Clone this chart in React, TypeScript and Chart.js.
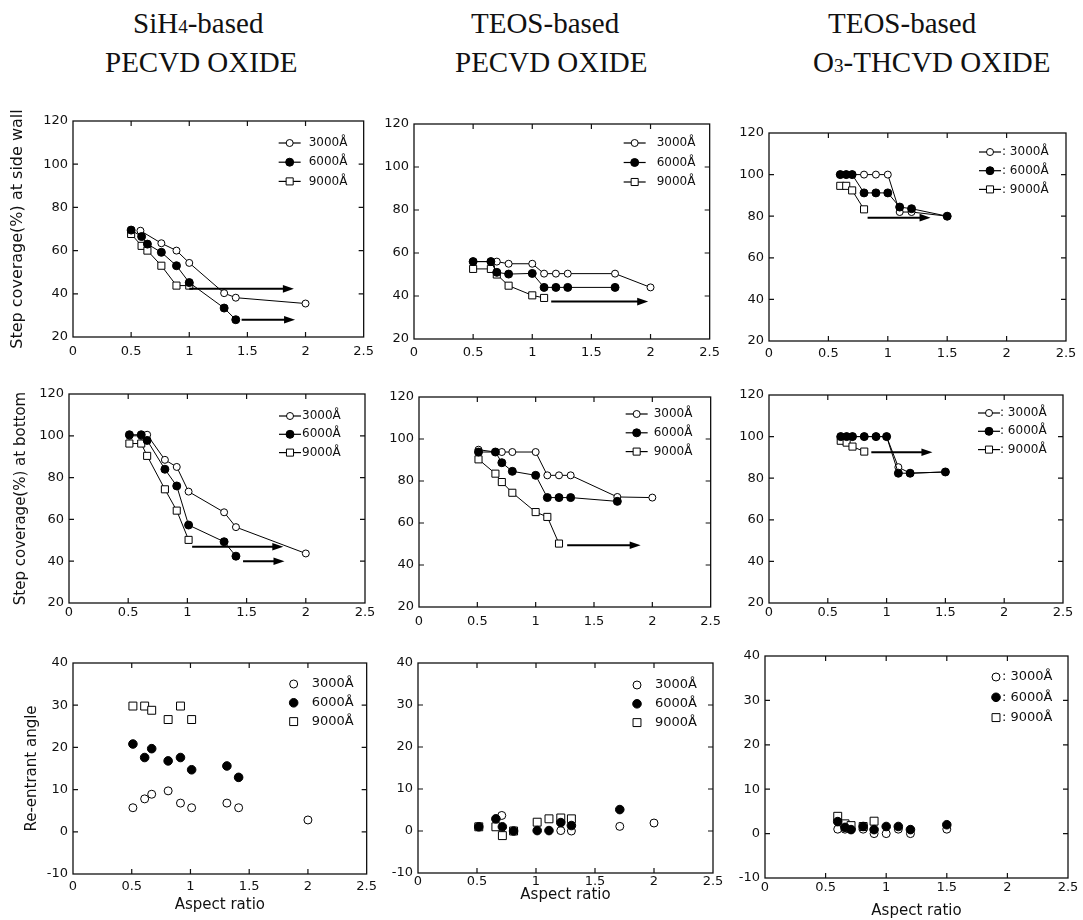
import React, { useEffect, useRef } from "react";
import { Chart, registerables } from "chart.js";

Chart.register(...registerables);

type Pt = [number, number];
type Arrow = [number, number, number];

// ---------- shared axis data ----------
const SERIES_LABELS = ["3000Å", "6000Å", "9000Å"];
const X_TICKS = [0, 0.5, 1, 1.5, 2, 2.5];
const X_TICK_LABELS = ["0", "0.5", "1", "1.5", "2", "2.5"];
const COVERAGE_TICKS = [20, 40, 60, 80, 100, 120];
const ANGLE_TICKS = [-10, 0, 10, 20, 30, 40];

// ---------- SiH4 PECVD, side wall ----------
const sihSide3000: Pt[] = [[0.58, 69.2], [0.76, 63.4], [0.89, 60], [1.0, 54.3], [1.3, 40.3], [1.4, 38.2], [2.0, 35.5]];
const sihSide6000: Pt[] = [[0.5, 69.5], [0.59, 66.5], [0.64, 63], [0.76, 59.2], [0.89, 53], [1.0, 45.2], [1.3, 33.4], [1.4, 28]];
const sihSide9000: Pt[] = [[0.5, 67.7], [0.59, 62.2], [0.64, 60], [0.76, 53], [0.89, 43.8], [1.0, 43.8]];
const sihSideArrows: Arrow[] = [[1.0, 1.9, 42.3], [1.45, 1.91, 28]];

// ---------- TEOS PECVD, side wall ----------
const teosSide3000: Pt[] = [[0.5, 56], [0.65, 56], [0.7, 56], [0.8, 55], [1.0, 55], [1.1, 50.4], [1.2, 50.4], [1.3, 50.4], [1.7, 50.4], [2.0, 44]];
const teosSide6000: Pt[] = [[0.5, 56], [0.65, 56], [0.7, 51], [0.8, 50.2], [1.0, 50.5], [1.1, 44], [1.2, 44], [1.3, 44], [1.7, 44]];
const teosSide9000: Pt[] = [[0.5, 52.6], [0.65, 52.6], [0.7, 50], [0.8, 44.8], [1.0, 40.3], [1.1, 39.1]];
const teosSideArrows: Arrow[] = [[1.16, 1.98, 37.4]];

// ---------- TEOS O3-THCVD, side wall ----------
const o3Side3000: Pt[] = [[0.6, 100], [0.65, 100], [0.7, 100], [0.8, 100], [0.9, 100], [1.0, 100], [1.1, 82], [1.2, 82], [1.5, 80]];
const o3Side6000: Pt[] = [[0.6, 100], [0.65, 100], [0.7, 100], [0.8, 91.2], [0.9, 91.2], [1.0, 91.2], [1.1, 84.4], [1.2, 83.6], [1.5, 80]];
const o3Side9000: Pt[] = [[0.6, 94.6], [0.65, 94.6], [0.7, 92.4], [0.8, 83.3]];
const o3SideArrows: Arrow[] = [[0.83, 1.36, 79.3]];

// ---------- SiH4 PECVD, bottom ----------
const sihBot3000: Pt[] = [[0.51, 100], [0.61, 100], [0.66, 100.5], [0.81, 88.5], [0.91, 85.1], [1.01, 73.3], [1.31, 63.4], [1.41, 56.3], [2.0, 43.7]];
const sihBot6000: Pt[] = [[0.51, 100.5], [0.61, 100.5], [0.66, 97.8], [0.81, 84], [0.91, 76], [1.01, 57.3], [1.31, 49.3], [1.41, 42.4]];
const sihBot9000: Pt[] = [[0.51, 96.3], [0.61, 96.3], [0.66, 90.4], [0.81, 74.4], [0.91, 64.2], [1.01, 50.2]];
const sihBotArrows: Arrow[] = [[1.04, 1.81, 46.9], [1.47, 1.82, 40]];

// ---------- TEOS PECVD, bottom ----------
const teosBot3000: Pt[] = [[0.51, 94.9], [0.655, 93.8], [0.71, 93.8], [0.8, 93.8], [1.0, 93.8], [1.1, 82.7], [1.2, 82.7], [1.3, 82.7], [1.7, 72.4], [2.0, 72.1]];
const teosBot6000: Pt[] = [[0.51, 93.8], [0.655, 93.8], [0.71, 88.7], [0.8, 84.6], [1.0, 82.7], [1.1, 72.1], [1.2, 72.1], [1.3, 72.1], [1.7, 70.3]];
const teosBot9000: Pt[] = [[0.51, 90.3], [0.655, 83.5], [0.71, 79.5], [0.8, 74.4], [1.0, 65.2], [1.1, 62.9], [1.2, 50.2]];
const teosBotArrows: Arrow[] = [[1.27, 1.9, 49.4]];

// ---------- TEOS O3-THCVD, bottom ----------
const o3Bot3000: Pt[] = [[0.61, 100], [0.66, 100], [0.71, 100], [0.81, 100], [0.91, 100], [1.0, 100], [1.1, 85.3], [1.2, 82.4], [1.5, 83]];
const o3Bot6000: Pt[] = [[0.61, 100], [0.66, 100], [0.71, 100], [0.81, 100], [0.91, 100], [1.0, 100], [1.1, 82.4], [1.2, 82.4], [1.5, 83]];
const o3Bot9000: Pt[] = [[0.61, 98], [0.66, 97.1], [0.71, 95.2], [0.81, 92.8]];
const o3BotArrows: Arrow[] = [[0.87, 1.39, 92.5]];

// ---------- Re-entrant angle ----------
const sihAng3000: Pt[] = [[0.51, 5.7], [0.61, 7.8], [0.67, 8.9], [0.81, 9.7], [0.915, 6.8], [1.01, 5.7], [1.31, 6.8], [1.41, 5.7], [2.0, 2.8]];
const sihAng6000: Pt[] = [[0.51, 20.8], [0.61, 17.6], [0.67, 19.7], [0.81, 16.8], [0.915, 17.6], [1.01, 14.7], [1.31, 15.6], [1.41, 12.9]];
const sihAng9000: Pt[] = [[0.51, 29.8], [0.61, 29.8], [0.67, 28.8], [0.81, 26.6], [0.915, 29.8], [1.01, 26.6]];

const teosAng3000: Pt[] = [[0.71, 3.7], [1.21, 0.1], [1.3, 0], [1.71, 1.1], [2.0, 1.9]];
const teosAng6000: Pt[] = [[0.515, 1], [0.66, 2.9], [0.715, 1], [0.81, 0], [1.01, 0.1], [1.11, 0.1], [1.21, 2], [1.3, 1.3], [1.71, 5.1]];
const teosAng9000: Pt[] = [[0.515, 1], [0.66, 1], [0.715, -1.1], [0.81, 0], [1.01, 2.1], [1.11, 2.9], [1.21, 3.1], [1.3, 2.9]];

const o3Ang3000: Pt[] = [[0.6, 1], [0.66, 1], [0.71, 1], [0.81, 1], [0.9, 0], [1.0, 0], [1.1, 1], [1.2, 0], [1.5, 1]];
const o3Ang6000: Pt[] = [[0.6, 2.7], [0.66, 1.4], [0.71, 0.9], [0.81, 1.6], [0.9, 0.9], [1.0, 1.6], [1.1, 1.6], [1.2, 0.9], [1.5, 2.0]];
const o3Ang9000: Pt[] = [[0.6, 3.9], [0.66, 2.2], [0.71, 1.8], [0.81, 1.6], [0.9, 2.8]];

// ---------- layout ----------
const SANS = "'DejaVu Sans', sans-serif";
const INK = "#111";

interface LegendCfg { mx: number; tx: number; ty: number; dy: number; colon: boolean; font: number; }
interface PanelCfg {
  L: number; T: number; R: number; B: number;
  padL: number; padT: number; padR: number; padB: number;
  yTicks: number[];
  yTitle?: string; yTitlePad?: number; yTitleSize?: number;
  xTitle?: string; xTitlePad?: number;
  xPad: number;
  series: Pt[][];
  arrows: Arrow[];
  lines: boolean;
  legend: LegendCfg;
  r: number[];
}

const R12 = [3.5, 4, 5];
const R3 = [4, 4.3, 5.6];

const PANELS: PanelCfg[] = [
  { L: 73, T: 121, R: 365, B: 337, padL: 71, padT: 14, padR: 16, padB: 26, yTicks: COVERAGE_TICKS,
    yTitle: "Step coverage(%) at side wall", yTitlePad: 6, yTitleSize: 16, xPad: 7,
    series: [sihSide3000, sihSide6000, sihSide9000], arrows: sihSideArrows, lines: true, r: R12,
    legend: { mx: 74, tx: 55, ty: 22, dy: 19.2, colon: false, font: 12 } },
  { L: 414, T: 124, R: 710, B: 339, padL: 40, padT: 14, padR: 16, padB: 26, yTicks: COVERAGE_TICKS, xPad: 6,
    series: [teosSide3000, teosSide6000, teosSide9000], arrows: teosSideArrows, lines: true, r: R12,
    legend: { mx: 75, tx: 53, ty: 19, dy: 19.5, colon: false, font: 12 } },
  { L: 769, T: 133, R: 1066, B: 341, padL: 40, padT: 14, padR: 16, padB: 26, yTicks: COVERAGE_TICKS, xPad: 5,
    series: [o3Side3000, o3Side6000, o3Side9000], arrows: o3SideArrows, lines: true, r: R12,
    legend: { mx: 76, tx: 64, ty: 19, dy: 18.7, colon: true, font: 12 } },
  { L: 69, T: 394, R: 365, B: 603, padL: 67, padT: 14, padR: 16, padB: 26, yTicks: COVERAGE_TICKS,
    yTitle: "Step coverage(%) at bottom", yTitlePad: 10, yTitleSize: 15, xPad: 2,
    series: [sihBot3000, sihBot6000, sihBot9000], arrows: sihBotArrows, lines: true, r: R12,
    legend: { mx: 75, tx: 63, ty: 22, dy: 18.3, colon: false, font: 12 } },
  { L: 419, T: 397, R: 712, B: 607, padL: 40, padT: 14, padR: 16, padB: 26, yTicks: COVERAGE_TICKS, xPad: 7,
    series: [teosBot3000, teosBot6000, teosBot9000], arrows: teosBotArrows, lines: true, r: R12,
    legend: { mx: 74, tx: 57, ty: 17, dy: 18.8, colon: false, font: 12 } },
  { L: 769, T: 395, R: 1063, B: 603, padL: 40, padT: 14, padR: 16, padB: 26, yTicks: COVERAGE_TICKS, xPad: 2,
    series: [o3Bot3000, o3Bot6000, o3Bot9000], arrows: o3BotArrows, lines: true, r: R12,
    legend: { mx: 74, tx: 63, ty: 18, dy: 18.3, colon: true, font: 12 } },
  { L: 73, T: 663, R: 370, B: 874, padL: 71, padT: 14, padR: 12, padB: 42, yTicks: ANGLE_TICKS,
    yTitle: "Re-entrant angle", yTitlePad: 21, yTitleSize: 15, xTitle: "Aspect ratio", xTitlePad: 2, xPad: 5,
    series: [sihAng3000, sihAng6000, sihAng9000], arrows: [], lines: false, r: R3,
    legend: { mx: 73, tx: 55, ty: 21, dy: 18.8, colon: false, font: 13 } },
  { L: 418, T: 663, R: 713, B: 873, padL: 40, padT: 14, padR: 14, padB: 42, yTicks: ANGLE_TICKS,
    xTitle: "Aspect ratio", xTitlePad: 11, xPad: 1,
    series: [teosAng3000, teosAng6000, teosAng9000], arrows: [], lines: false, r: R3,
    legend: { mx: 76, tx: 58, ty: 22, dy: 18.8, colon: false, font: 13 } },
  { L: 765, T: 656, R: 1068, B: 878, padL: 40, padT: 14, padR: 14, padB: 42, yTicks: ANGLE_TICKS,
    xTitle: "Aspect ratio", xTitlePad: 0, xPad: 2,
    series: [o3Ang3000, o3Ang6000, o3Ang9000], arrows: [], lines: false, r: R3,
    legend: { mx: 72, tx: 66, ty: 21, dy: 20.3, colon: true, font: 13 } },
];

function drawMarker(ctx: CanvasRenderingContext2D, i: number, x: number, y: number, r: number) {
  ctx.save();
  ctx.lineWidth = 1;
  ctx.strokeStyle = "#000";
  ctx.fillStyle = i === 1 ? "#000" : "#fff";
  ctx.beginPath();
  if (i === 2) {
    const s = r * Math.SQRT1_2;
    ctx.rect(x - s, y - s, 2 * s, 2 * s);
  } else {
    ctx.arc(x, y, r, 0, Math.PI * 2);
  }
  ctx.fill();
  ctx.stroke();
  ctx.restore();
}

const decorPlugin = {
  id: "decor",
  afterDatasetsDraw(chart: any, _args: any, opts: any) {
    const { ctx, chartArea: a, scales } = chart;
    const xs = scales.x;
    const ys = scales.y;
    ctx.save();
    // frame
    ctx.strokeStyle = INK;
    ctx.lineWidth = 1.3;
    ctx.strokeRect(a.left, a.top, a.right - a.left, a.bottom - a.top);
    // inward tick marks on all four sides
    const tl = 5;
    ctx.lineWidth = 1.2;
    ctx.beginPath();
    xs.ticks.forEach((t: any) => {
      const px = xs.getPixelForValue(t.value);
      if (px <= a.left + 1 || px >= a.right - 1) return;
      ctx.moveTo(px, a.bottom); ctx.lineTo(px, a.bottom - tl);
      ctx.moveTo(px, a.top); ctx.lineTo(px, a.top + tl);
    });
    ys.ticks.forEach((t: any) => {
      const py = ys.getPixelForValue(t.value);
      if (py <= a.top + 1 || py >= a.bottom - 1) return;
      ctx.moveTo(a.left, py); ctx.lineTo(a.left + tl, py);
      ctx.moveTo(a.right, py); ctx.lineTo(a.right - tl, py);
    });
    ctx.stroke();
    // arrows
    ctx.strokeStyle = "#000";
    ctx.fillStyle = "#000";
    (opts.arrows || []).forEach(([x0, x1, yv]: Arrow) => {
      const p0 = xs.getPixelForValue(x0);
      const p1 = xs.getPixelForValue(x1);
      const py = ys.getPixelForValue(yv);
      ctx.lineWidth = 2;
      ctx.beginPath();
      ctx.moveTo(p0, py);
      ctx.lineTo(p1 - 7, py);
      ctx.stroke();
      ctx.beginPath();
      ctx.moveTo(p1, py);
      ctx.lineTo(p1 - 11, py - 3.8);
      ctx.lineTo(p1 - 11, py + 3.8);
      ctx.closePath();
      ctx.fill();
    });
    // legend
    const lg: LegendCfg = opts.legend;
    ctx.font = `${lg.font}px ${SANS}`;
    ctx.textBaseline = "middle";
    ctx.textAlign = "left";
    chart.data.datasets.forEach((ds: any, i: number) => {
      const y = a.top + lg.ty + i * lg.dy;
      const mx = a.right - lg.mx;
      if (opts.lines) {
        ctx.strokeStyle = "#000";
        ctx.lineWidth = 1.2;
        ctx.beginPath();
        ctx.moveTo(mx - 11, y);
        ctx.lineTo(mx + 11, y);
        ctx.stroke();
      }
      drawMarker(ctx, i, mx, y, opts.r[i]);
      ctx.fillStyle = INK;
      ctx.fillText((lg.colon ? ": " : "") + ds.label, a.right - lg.tx, y);
    });
    ctx.restore();
  },
};

function Panel({ cfg }: { cfg: PanelCfg }) {
  const ref = useRef<HTMLCanvasElement | null>(null);
  const w = cfg.R - cfg.L + cfg.padL + cfg.padR;
  const h = cfg.B - cfg.T + cfg.padT + cfg.padB;
  useEffect(() => {
    if (!ref.current) return;
    const tickFont = { family: SANS, size: 13 };
    const chart = new Chart(ref.current, {
      type: "line",
      data: {
        datasets: cfg.series.map((pts, i) => ({
          label: SERIES_LABELS[i],
          data: pts.map(([x, y]) => ({ x, y })),
          showLine: cfg.lines,
          borderColor: "#000",
          borderWidth: 1,
          pointStyle: i === 2 ? "rect" : "circle",
          pointRadius: cfg.r[i],
          pointBackgroundColor: i === 1 ? "#000" : "#fff",
          pointBorderColor: "#000",
          pointBorderWidth: 1,
          fill: false,
          tension: 0,
          order: i === 1 ? 0 : i === 2 ? 1 : 2,
        })),
      },
      options: {
        animation: false,
        responsive: false,
        maintainAspectRatio: false,
        devicePixelRatio: 1,
        events: [],
        layout: { padding: { left: 0, top: cfg.padT, right: cfg.padR, bottom: 0 } },
        plugins: {
          legend: { display: false },
          tooltip: { enabled: false },
          decor: { arrows: cfg.arrows, legend: cfg.legend, lines: cfg.lines, r: cfg.r },
        } as any,
        scales: {
          x: {
            type: "linear",
            min: X_TICKS[0],
            max: X_TICKS[X_TICKS.length - 1],
            afterBuildTicks: (s: any) => { s.ticks = X_TICKS.map((v) => ({ value: v })); },
            afterFit: (s: any) => { s.height = cfg.padB; },
            ticks: {
              autoSkip: false, maxRotation: 0, minRotation: 0, padding: cfg.xPad,
              color: INK, font: tickFont,
              callback: (_v: any, i: number) => X_TICK_LABELS[i],
            },
            grid: { display: false, drawTicks: false },
            border: { display: false },
            title: cfg.xTitle
              ? { display: true, text: cfg.xTitle, color: INK, font: { family: SANS, size: 15 }, padding: { top: 0, bottom: cfg.xTitlePad || 0 } }
              : { display: false },
          },
          y: {
            type: "linear",
            min: cfg.yTicks[0],
            max: cfg.yTicks[cfg.yTicks.length - 1],
            afterBuildTicks: (s: any) => { s.ticks = cfg.yTicks.map((v) => ({ value: v })); },
            afterFit: (s: any) => { s.width = cfg.padL; },
            ticks: { padding: 5, color: INK, font: tickFont, callback: (v: any) => String(v) },
            grid: { display: false, drawTicks: false },
            border: { display: false },
            title: cfg.yTitle
              ? { display: true, text: cfg.yTitle, color: INK, font: { family: SANS, size: cfg.yTitleSize || 15 }, padding: { top: cfg.yTitlePad || 0, bottom: 0 } }
              : { display: false },
          },
        } as any,
      },
      plugins: [decorPlugin as any],
    });
    return () => chart.destroy();
  }, [cfg]);
  return (
    <canvas
      ref={ref}
      width={w}
      height={h}
      style={{ position: "absolute", left: cfg.L - cfg.padL, top: cfg.T - cfg.padT, width: w, height: h }}
    />
  );
}

const headStyle: React.CSSProperties = {
  position: "absolute",
  fontFamily: "'Liberation Serif', 'Times New Roman', serif",
  fontSize: 29,
  lineHeight: "29px",
  whiteSpace: "nowrap",
  color: "#111",
};
const subStyle: React.CSSProperties = { fontSize: "0.66em" };

export default function App() {
  return (
    <div style={{ position: "absolute", left: 0, top: 0, width: 1083, height: 920, background: "#fff", overflow: "hidden" }}>
      <div style={{ ...headStyle, left: 133, top: 9 }}>SiH<span style={subStyle}>4</span>-based</div>
      <div style={{ ...headStyle, left: 105, top: 48 }}>PECVD OXIDE</div>
      <div style={{ ...headStyle, left: 471, top: 9 }}>TEOS-based</div>
      <div style={{ ...headStyle, left: 455, top: 48 }}>PECVD OXIDE</div>
      <div style={{ ...headStyle, left: 828, top: 9 }}>TEOS-based</div>
      <div style={{ ...headStyle, left: 813, top: 48 }}>O<span style={subStyle}>3</span>-THCVD OXIDE</div>
      {PANELS.map((p, i) => (
        <Panel key={i} cfg={p} />
      ))}
    </div>
  );
}
